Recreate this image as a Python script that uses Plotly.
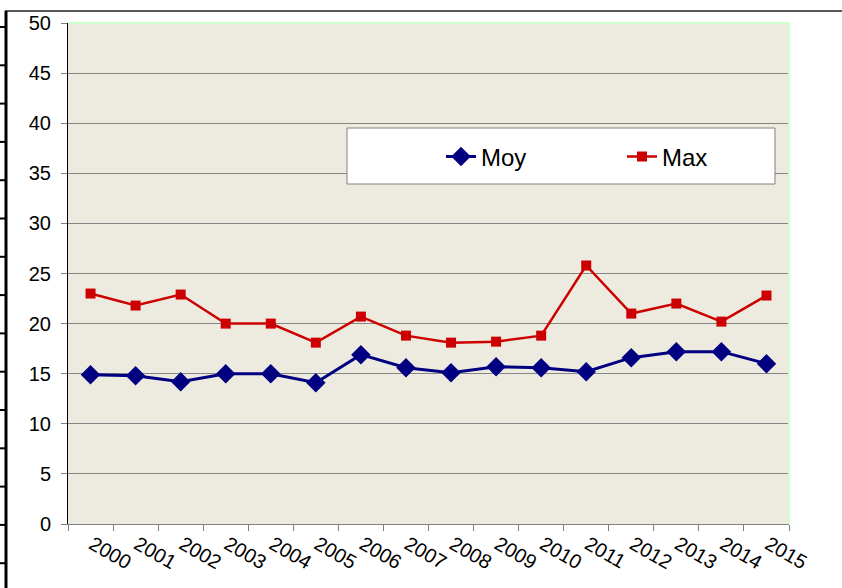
import plotly.graph_objects as go

years = ["2000", "2001", "2002", "2003", "2004", "2005", "2006", "2007",
         "2008", "2009", "2010", "2011", "2012", "2013", "2014", "2015"]
moy = [14.9, 14.8, 14.2, 15.0, 15.0, 14.1, 16.9, 15.6, 15.1, 15.7, 15.6, 15.2, 16.6, 17.2, 17.2, 16.0]
maxv = [23.0, 21.8, 22.9, 20.0, 20.0, 18.1, 20.7, 18.8, 18.1, 18.2, 18.8, 25.8, 21.0, 22.0, 20.2, 22.8]
y_ticks = [0, 5, 10, 15, 20, 25, 30, 35, 40, 45, 50]

W, H = 842, 588
L, R, T, B = 68, 789, 23, 524


def px(x):
    return (x - L) / (R - L)


def py(y):
    return (B - y) / (B - T)


fig = go.Figure()
fig.add_trace(go.Scatter(
    x=years, y=moy, name="Moy", mode="lines+markers",
    line=dict(color="#000080", width=3),
    marker=dict(symbol="diamond", size=15, color="#000080"),
))
fig.add_trace(go.Scatter(
    x=years, y=maxv, name="Max", mode="lines+markers",
    line=dict(color="#CC0000", width=2.5),
    marker=dict(symbol="square", size=10, color="#CC0000"),
))

shapes = []
# legend box
shapes.append(dict(type="rect", xref="paper", yref="paper",
                   x0=px(347), x1=px(775), y0=py(184), y1=py(128),
                   fillcolor="white", line=dict(color="#808080", width=1), layer="above"))
# plot border: top & right light green
shapes.append(dict(type="line", xref="paper", yref="paper", x0=0, x1=1, y0=1, y1=1,
                   line=dict(color="#CCFFCC", width=2)))
shapes.append(dict(type="line", xref="paper", yref="paper", x0=1, x1=1, y0=0, y1=1,
                   line=dict(color="#CCFFCC", width=2)))
# outer frame artifacts
shapes.append(dict(type="line", xref="paper", yref="paper",
                   x0=px(5), x1=px(842), y0=py(11), y1=py(11),
                   line=dict(color="#222222", width=1.5)))
shapes.append(dict(type="line", xref="paper", yref="paper",
                   x0=px(6), x1=px(6), y0=py(11), y1=py(588),
                   line=dict(color="black", width=3)))
for i in range(15):
    yy = 27 + i * 38.3
    shapes.append(dict(type="line", xref="paper", yref="paper",
                       x0=px(0), x1=px(6), y0=py(yy), y1=py(yy),
                       line=dict(color="black", width=2)))

fig.update_layout(
    width=W, height=H,
    margin=dict(l=L, r=W - R, t=T, b=H - B, pad=0, autoexpand=False),
    paper_bgcolor="white",
    plot_bgcolor="#EDEBE0",
    font=dict(family="Liberation Sans, Arial, sans-serif", size=20, color="black"),
    showlegend=True,
    legend=dict(orientation="h", x=px(441), xanchor="left", y=py(157), yanchor="middle",
                bgcolor="rgba(0,0,0,0)", borderwidth=0,
                font=dict(size=24), entrywidth=136, entrywidthmode="pixels",
                itemclick=False),
    shapes=shapes,
    xaxis=dict(type="category", tickson="boundaries", ticks="outside", ticklen=6,
               range=[-0.5, len(years) - 0.5],
               tickcolor="#808080", showgrid=False, showline=True, linecolor="#808080",
               linewidth=1, tickangle=30, tickfont=dict(size=20), zeroline=False,
               automargin=False, ticklabelshift=2),
    yaxis=dict(range=[0, 50], tickvals=y_ticks, ticks="outside", ticklen=6,
               tickcolor="#808080", showgrid=True, gridcolor="#858585", gridwidth=1.3,
               showline=True, linecolor="black", linewidth=1, zeroline=False,
               ticklabelstandoff=6, tickfont=dict(size=20), automargin=False),
)

fig.write_html("out.html", config={"displayModeBar": False},
               post_script="document.body.style.margin='0';")
